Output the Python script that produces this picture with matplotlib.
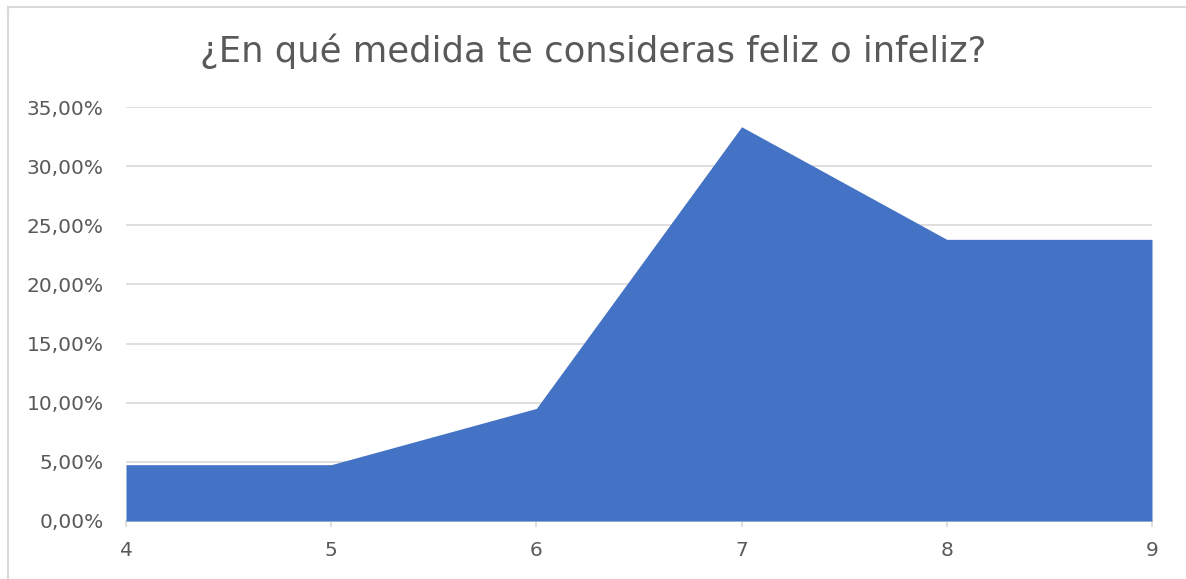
import matplotlib.pyplot as plt
from matplotlib.ticker import FuncFormatter, MultipleLocator
from matplotlib.lines import Line2D

plt.rcParams['font.family'] = ['DejaVu Sans']

# datos de la encuesta
puntuacion = [4, 5, 6, 7, 8, 9]
porcentaje = [4.76, 4.76, 9.52, 33.33, 23.81, 23.81]

gris = '#595959'

fig = plt.figure(figsize=(11.86, 5.79), dpi=100)
ax = fig.add_axes([126/1186, 1 - 521/579, (1152 - 126)/1186, (521 - 107)/579])

ax.fill_between(puntuacion, porcentaje, 0, color='#4472C4', linewidth=0, zorder=3)

ax.set_xlim(4, 9)
ax.set_ylim(0, 35)
ax.yaxis.set_major_locator(MultipleLocator(5))
ax.yaxis.set_major_formatter(FuncFormatter(lambda v, p: f'{v:.2f}%'.replace('.', ',')))
ax.set_xticks(puntuacion)

ax.grid(axis='y', color='#d9d9d9', linewidth=1.2, zorder=0)
for s in ['top', 'right', 'left']:
    ax.spines[s].set_visible(False)
ax.spines['bottom'].set_color('#d9d9d9')
ax.spines['bottom'].set_linewidth(1.2)
ax.tick_params(axis='y', length=0, labelsize=14.5, labelcolor=gris, pad=16)
ax.tick_params(axis='x', length=4.5, color='#d9d9d9', width=1.2, labelsize=14.5, labelcolor=gris, pad=10)

fig.text(0.5, 1 - 51/579, '¿En qué medida te consideras feliz o infeliz?',
         ha='center', va='center', fontsize=25.5, color=gris)

# borde del gráfico
fig.add_artist(Line2D([8/1186, 8/1186], [0, 1 - 7/579], color='#d9d9d9', lw=1.5))
fig.add_artist(Line2D([8/1186, 1], [1 - 7/579, 1 - 7/579], color='#d9d9d9', lw=1.5))

fig.savefig('out.png', dpi=100)
